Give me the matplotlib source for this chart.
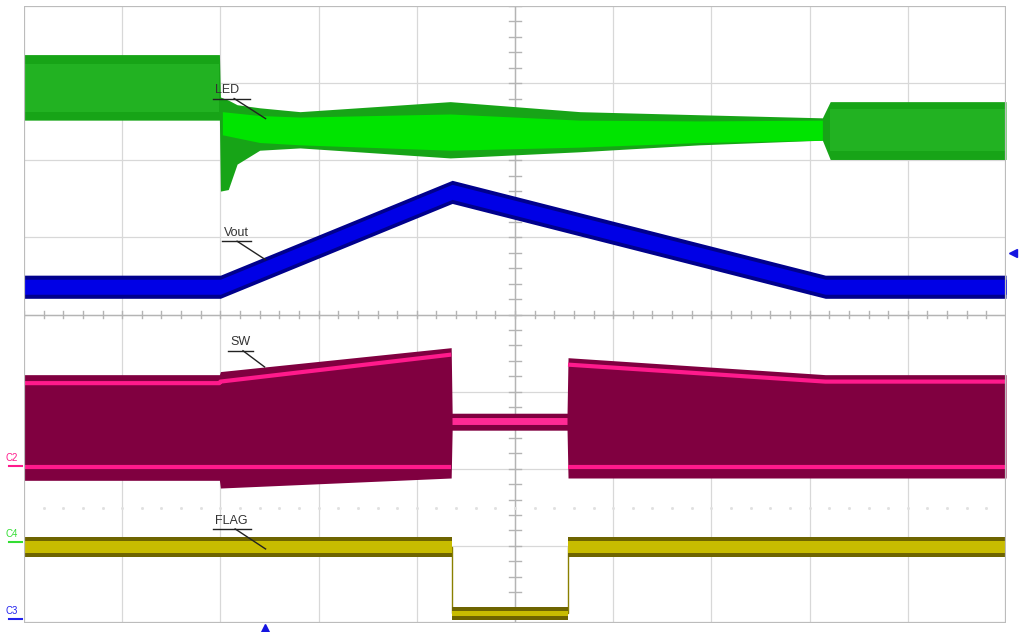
import matplotlib
matplotlib.use("Agg")
import matplotlib.pyplot as plt
import numpy as np

# Oscilloscope capture, everything in screen divisions (10 x 8)

# LED current (green) envelope
led_t = [0, 1.99, 2.00, 2.08, 2.17, 2.40, 2.81, 4.34, 5.66, 6.88, 8.13, 8.21, 10]
led_hi = [7.37, 7.37, 6.82, 6.78, 6.72, 6.68, 6.63, 6.76, 6.63, 6.59, 6.55, 6.76, 6.76]
led_lo = [6.52, 6.52, 5.60, 5.62, 5.95, 6.13, 6.16, 6.03, 6.11, 6.20, 6.26, 6.01, 6.01]
# bright core of LED while Vout ramps
led_core_t = [2.02, 2.40, 2.81, 4.34, 5.66, 6.88, 8.13]
led_core_hi = [6.63, 6.58, 6.56, 6.60, 6.52, 6.51, 6.52]
led_core_lo = [6.33, 6.23, 6.20, 6.13, 6.17, 6.23, 6.26]

# Vout (blue) centre line and band half-width
vout_t = [0, 2.0, 4.36, 8.16, 10]
vout_c = [4.36, 4.36, 5.59, 4.36, 4.36]
vout_half = 0.15

# SW node (magenta) envelope
sw_t = [0, 1.99, 2.0, 4.35, 4.36, 5.53, 5.54, 8.16, 10]
sw_hi = [3.22, 3.22, 3.26, 3.57, 2.72, 2.72, 3.44, 3.22, 3.22]
sw_lo = [1.85, 1.85, 1.75, 1.88, 2.50, 2.50, 1.88, 1.88, 1.88]
# bright stripes inside SW
sw_top_t1 = [0, 1.99, 2.0, 4.35]
sw_top_y1 = [3.11, 3.11, 3.13, 3.48]
sw_top_t2 = [5.54, 8.16, 10]
sw_top_y2 = [3.35, 3.13, 3.13]
sw_bot_y = 2.02
sw_mid_y = 2.62

# FLAG (olive) envelope
flag_t = [0, 4.36, 4.36, 5.54, 5.54, 10]
flag_hi = [1.12, 1.12, 0.21, 0.21, 1.12, 1.12]
flag_lo = [0.86, 0.86, 0.04, 0.04, 0.86, 0.86]

W, H = 1021, 632
fig = plt.figure(figsize=(W / 100, H / 100), dpi=100)
fig.patch.set_facecolor("white")
ax = fig.add_axes([24 / W, 9 / H, 982 / W, 617 / H])
ax.set_xlim(0, 10)
ax.set_ylim(0, 8)
ax.axis("off")

# graticule
for i in range(1, 10):
    ax.axvline(i, color="#d8d8d8", lw=0.9, zorder=0)
for j in range(1, 8):
    ax.axhline(j, color="#d8d8d8", lw=0.9, zorder=0)
ax.axvline(5, color="#b4b4b4", lw=1.0, zorder=0)
ax.axhline(4, color="#b4b4b4", lw=1.0, zorder=0)
for k in np.arange(0, 10.01, 0.2):
    ax.plot([k, k], [3.96, 4.04], color="#b4b4b4", lw=1.0, zorder=0)
for k in np.arange(0, 8.01, 0.2):
    ax.plot([4.94, 5.06], [k, k], color="#b4b4b4", lw=1.0, zorder=0)
ax.plot(np.arange(0.2, 10, 0.2), [1.49] * 49, ls="none", marker="s", ms=1.0,
        color="#e0e0e0", zorder=0)
frame = plt.Rectangle((0, 0), 10, 8, fill=False, ec="#bcbcbc", lw=1.6, zorder=5)
ax.add_patch(frame)

# LED
ax.fill_between(led_t, led_lo, led_hi, color="#17a417", lw=0, zorder=2)
ax.fill_between(led_t[:2], [6.62, 6.62], [7.25, 7.25], color="#22b222", lw=0, zorder=2)
ax.fill_between(led_t[-2:], [6.12, 6.12], [6.66, 6.66], color="#22b222", lw=0, zorder=2)
ax.fill_between(led_core_t, led_core_lo, led_core_hi, color="#00e400", lw=0, zorder=2)

# Vout
vc = np.array(vout_c)
ax.fill_between(vout_t, vc - vout_half, vc + vout_half, color="#00008c", lw=0, zorder=2)
ax.fill_between(vout_t, vc - vout_half * 0.65, vc + vout_half * 0.65, color="#0000e6", lw=0, zorder=2)

# SW
ax.fill_between(sw_t, sw_lo, sw_hi, color="#800040", lw=0, zorder=2)
ax.plot(sw_top_t1, sw_top_y1, color="#ff1a8c", lw=3, solid_capstyle="butt", zorder=3)
ax.plot(sw_top_t2, sw_top_y2, color="#ff1a8c", lw=3, solid_capstyle="butt", zorder=3)
ax.plot([0, 4.35], [sw_bot_y, sw_bot_y], color="#ff1a8c", lw=3, solid_capstyle="butt", zorder=3)
ax.plot([5.54, 10], [sw_bot_y, sw_bot_y], color="#ff1a8c", lw=3, solid_capstyle="butt", zorder=3)
ax.plot([4.36, 5.53], [sw_mid_y, sw_mid_y], color="#ff2a95", lw=5, solid_capstyle="butt", zorder=3)

# FLAG
fl = np.array(flag_lo)
fh = np.array(flag_hi)
ax.plot(flag_t, (fl + fh) / 2, color="#8a8000", lw=1.0, zorder=2)
ax.fill_between(flag_t, fl, fh, color="#6e6400", lw=0, zorder=2)
ax.fill_between(flag_t, fl + 0.05, fh - 0.06, color="#c8bc00", lw=0, zorder=2)

# trace labels with underline and leader
labels = [
    ("LED", 1.92, 6.80, 2.30, 2.14, 2.46, 6.54),
    ("Vout", 2.02, 4.95, 2.31, 2.17, 2.46, 4.71),
    ("SW", 2.08, 3.53, 2.33, 2.23, 2.45, 3.32),
    ("FLAG", 1.92, 1.22, 2.31, 2.15, 2.46, 0.96),
]
for name, x0, yu, x1, xs, xe, ye in labels:
    ax.text(x0 + 0.02, yu + 0.03, name, fontsize=9, family="Liberation Sans",
            color="#333333", ha="left", va="bottom", zorder=6)
    ax.plot([x0, x1], [yu, yu], color="#222222", lw=1.0, zorder=6)
    ax.plot([xs, xe], [yu, ye], color="#222222", lw=1.0, zorder=6)

# channel markers at left edge
for txt, yp, col in [("C2", 463, "#ff1a8c"), ("C4", 539, "#33dd33"), ("C3", 616, "#2222ee")]:
    fig.text(6 / W, 1 - yp / H, txt, fontsize=7, family="Liberation Sans",
             color=col, ha="left", va="bottom")
    fig.add_artist(plt.Line2D([9 / W, 22 / W], [1 - (yp + 3) / H] * 2,
                              color=col, lw=1.5))

# trigger / offset markers
fig.add_artist(plt.Line2D([1013 / W], [1 - 253 / H], marker="<", ms=6,
                          color="#1515e0", ls="none"))
fig.add_artist(plt.Line2D([265 / W], [1 - 628 / H], marker="^", ms=6,
                          color="#1515e0", ls="none"))

plt.savefig("out.png", dpi=100, facecolor="white")
